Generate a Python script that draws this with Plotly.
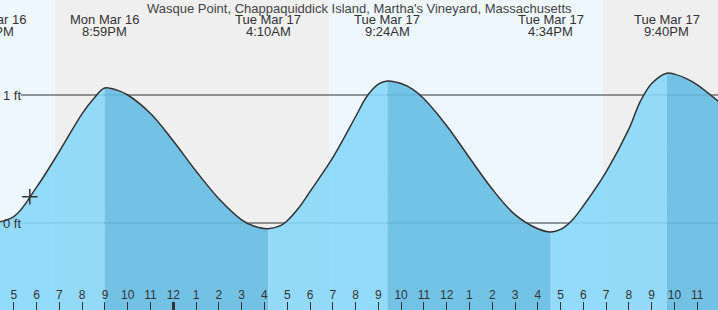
import plotly.graph_objects as go

# ---------------- data (hours relative to midnight Tue Mar 17; heights in ft) ----------------
curve_hours = [-8.0, -7, -6, -5, -4, -3.5, -3.017, -2.5, -2, -1, 0, 1, 2, 3, 3.5, 4.167, 4.75,
               5, 5.5, 6, 7, 8, 8.5, 9, 9.4, 10, 10.5, 11, 12, 13, 14, 15, 16, 16.567, 17,
               17.5, 18, 19, 20, 20.5, 21, 21.667, 22, 22.5, 23, 24]
curve_feet = [0.00, 0.05, 0.28, 0.56, 0.855, 0.97, 1.055, 1.04, 1.00, 0.855, 0.64, 0.405,
              0.19, 0.025, -0.022, -0.045, -0.016, 0.018, 0.117, 0.245, 0.51, 0.83, 0.99,
              1.085, 1.11, 1.09, 1.045, 0.97, 0.76, 0.51, 0.265, 0.065, -0.045, -0.07, -0.05,
              0.02, 0.135, 0.40, 0.735, 0.95, 1.09, 1.17, 1.163, 1.13, 1.08, 0.94]

event_hours = [-8.0, -3.017, 4.167, 9.4, 16.567, 21.667]
event_dates = ["Mon Mar 16", "Mon Mar 16", "Tue Mar 17", "Tue Mar 17", "Tue Mar 17", "Tue Mar 17"]
event_times = ["4:00PM", "8:59PM", "4:10AM", "9:24AM", "4:34PM", "9:40PM"]
event_kind = ["low", "high", "low", "high", "low", "high"]

night_start = [-5.2, 18.88]
night_end = [6.84, 30.0]

now_hour = [-6.3]
now_feet = [0.205]

level_values = [0, 1]
level_labels = ["0 ft", "1 ft"]

hour_ticks = list(range(-7, 24))
hour_labels = [str((h % 24) % 12 or 12) for h in hour_ticks]
midnight_ticks = [0]

title_text = "Wasque Point, Chappaquiddick Island, Martha's Vineyard, Massachusetts"

# ---------------- styling ----------------
X_RANGE = [-7.608, 23.91]
Y_RANGE = [-0.6797, 1.7422]
DAY = "#eef7fe"
NIGHT = "#efefef"
FLOOD = "rgba(136,215,250,0.9)"
EBB = "rgba(101,188,228,0.9)"
INK = "#333333"
FONT = "Liberation Sans, Arial, sans-serif"


def x_to_paper(t):
    return (t - X_RANGE[0]) / (X_RANGE[1] - X_RANGE[0])


fig = go.Figure()

# fills between consecutive tide extremes
bounds = event_hours + [curve_hours[-1]]
for i in range(len(bounds) - 1):
    a, b = bounds[i], bounds[i + 1]
    xs = [t for t in curve_hours if a <= t <= b]
    ys = [h for t, h in zip(curve_hours, curve_feet) if a <= t <= b]
    fig.add_trace(go.Scatter(x=[a, b], y=[Y_RANGE[0], Y_RANGE[0]], mode="lines",
                             line=dict(width=0), hoverinfo="skip", showlegend=False))
    color = FLOOD if event_kind[i] == "low" else EBB
    fig.add_trace(go.Scatter(x=xs, y=ys, mode="lines", fill="tonexty", fillcolor=color,
                             line=dict(width=0, shape="spline"), hoverinfo="skip",
                             showlegend=False))

# tide curve outline
fig.add_trace(go.Scatter(x=curve_hours, y=curve_feet, mode="lines",
                         line=dict(color=INK, width=1.5, shape="spline"),
                         hoverinfo="skip", showlegend=False))

# current time marker
fig.add_trace(go.Scatter(x=now_hour, y=now_feet, mode="markers",
                         marker=dict(symbol="cross-thin", size=11,
                                     line=dict(color=INK, width=1.5)),
                         hoverinfo="skip", showlegend=False))

# overlay axis carrying the heavier midnight tick
fig.add_trace(go.Scatter(x=midnight_ticks, y=[0.5], mode="markers", marker=dict(opacity=0),
                         xaxis="x2", yaxis="y2", hoverinfo="skip", showlegend=False))

shapes = []
for s, e in zip(night_start, night_end):
    shapes.append(dict(type="rect", xref="x", yref="paper", x0=s, x1=e, y0=0, y1=1,
                       fillcolor=NIGHT, line=dict(width=0), layer="below"))
for v in level_values:
    shapes.append(dict(type="line", xref="paper", yref="y", x0=0.029, x1=1, y0=v, y1=v,
                       line=dict(color=INK, width=1), layer="below"))

annotations = [dict(text=lab, xref="paper", yref="y", x=0, y=v, xanchor="left",
                    yanchor="middle", xshift=1, showarrow=False,
                    font=dict(family=FONT, size=13, color=INK))
               for v, lab in zip(level_values, level_labels)]
annotations.append(dict(text=title_text, xref="paper", yref="paper", x=0.5, y=1,
                        xanchor="center", yanchor="top", yshift=1, showarrow=False,
                        font=dict(family=FONT, size=13, color="#444444")))
for t, d, tm in zip(event_hours, event_dates, event_times):
    annotations.append(dict(text=d, xref="paper", yref="paper", x=x_to_paper(t),
                            y=1 - 20 / 310, xanchor="center", yanchor="middle",
                            showarrow=False, font=dict(family=FONT, size=13, color=INK)))
    annotations.append(dict(text=tm, xref="paper", yref="paper", x=x_to_paper(t),
                            y=1 - 31.5 / 310, xanchor="center", yanchor="middle",
                            showarrow=False, font=dict(family=FONT, size=13, color=INK)))

fig.update_layout(
    width=718, height=310,
    margin=dict(l=0, r=0, t=0, b=0),
    paper_bgcolor=DAY, plot_bgcolor=DAY,
    shapes=shapes, annotations=annotations,
    xaxis=dict(range=X_RANGE, tickmode="array", tickvals=hour_ticks, ticktext=hour_labels,
               ticks="inside", ticklen=8, tickwidth=1, tickcolor=INK,
               ticklabelposition="inside", tickfont=dict(family=FONT, size=12, color=INK),
               showgrid=False, zeroline=False, showline=False, fixedrange=True),
    xaxis2=dict(range=X_RANGE, overlaying="x", anchor="y2", side="bottom",
                tickmode="array", tickvals=midnight_ticks, ticks="inside", ticklen=8,
                tickwidth=3, tickcolor=INK, showticklabels=False, showgrid=False,
                zeroline=False, showline=False, fixedrange=True),
    yaxis=dict(range=Y_RANGE, visible=False, fixedrange=True),
    yaxis2=dict(range=[0, 1], overlaying="y", anchor="x2", visible=False, fixedrange=True),
    showlegend=False,
)

fig.write_html("out.html")
